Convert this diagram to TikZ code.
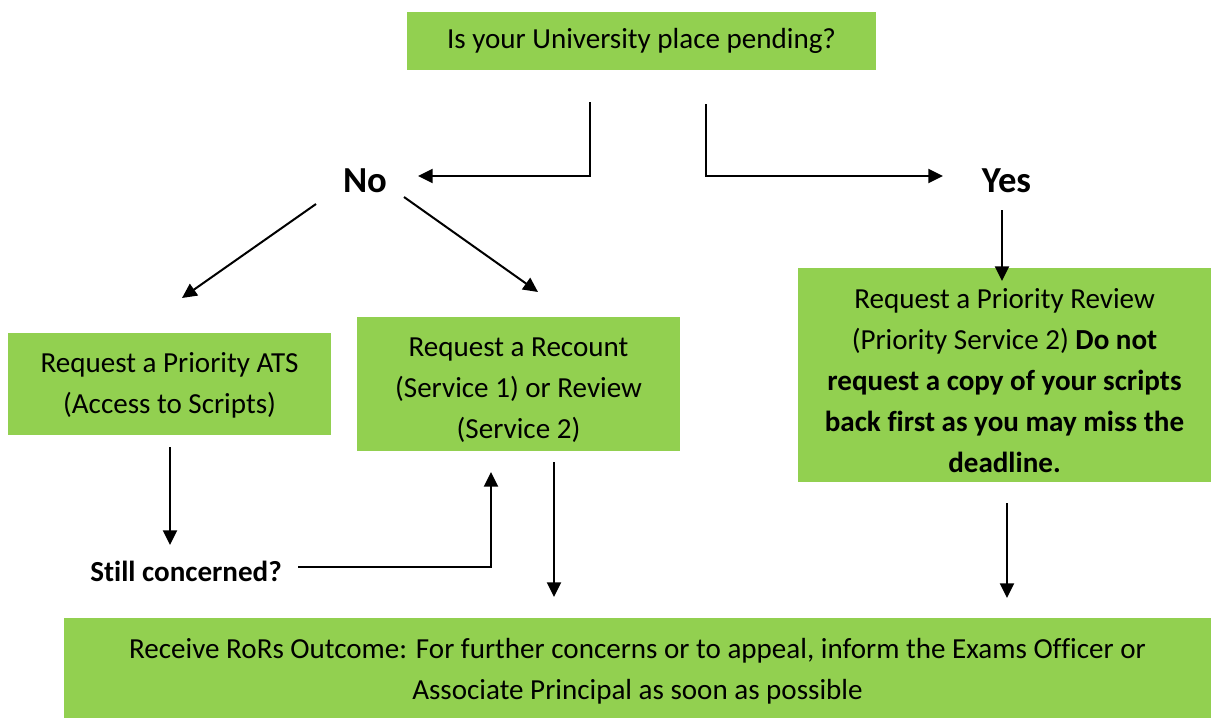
\documentclass[tikz,border=0pt]{standalone}
\usepackage{fontspec}
\setmainfont[Ligatures=NoCommon]{Carlito}
\usetikzlibrary{arrows.meta}
\definecolor{boxgreen}{HTML}{92D050}
\newcommand{\topgap}[1]{\rule{0pt}{#1}}
\tikzset{
  box/.style={fill=boxgreen, draw=none, inner sep=0pt, align=center, text=black,
    font=\fontsize{21.8}{30.75}\selectfont},
  lbl/.style={inner sep=0pt, font=\bfseries\fontsize{27.5}{33}\selectfont},
  sublbl/.style={inner sep=0pt, font=\bfseries\fontsize{21.8}{30.75}\selectfont},
  arr/.style={line width=1.5pt, -{Triangle[length=11pt,width=10.5pt]}},
  ln/.style={line width=1.5pt}
}
\begin{document}
\begin{tikzpicture}[x=0.75pt,y=-0.75pt]
\useasboundingbox (0,0) rectangle (1211,718);
% boxes
\node[box, minimum width=469*0.75pt, minimum height=58*0.75pt] (top) at (641.5,41) {Is your University place pending?};
\node[box, minimum width=323*0.75pt, minimum height=102*0.75pt] (ats) at (169.5,384) {\topgap{17.5pt}Request a Priority ATS\\(Access to Scripts)};
\node[box, minimum width=323*0.75pt, minimum height=134*0.75pt] (rec) at (518.5,384) {\topgap{23.5pt}Request a Recount\\(Service 1) or Review\\(Service 2)};
\node[box, minimum width=413*0.75pt, minimum height=214*0.75pt] (pri) at (1004.5,375) {\topgap{23.5pt}Request a Priority Review\\(Priority Service 2) \textbf{Do not}\\\textbf{request a copy of your scripts}\\\textbf{back first as you may miss the}\\\textbf{deadline.}};
\node[box, minimum width=1147*0.75pt, minimum height=100*0.75pt] (out) at (637.5,668) {\topgap{20.5pt}Receive RoRs Outcome: For further concerns or to appeal, inform the Exams Officer or\\Associate Principal as soon as possible};
% labels
\node[lbl] (no) at (365,181) {No};
\node[lbl] (yes) at (1006.5,181) {Yes};
\node[sublbl, anchor=west] (still) at (90,571) {Still concerned?};
% coordinates
\coordinate (a1) at (590,102);
\coordinate (a2) at (418,176);
\coordinate (b1) at (706,104);
\coordinate (b2) at (943,176);
\coordinate (c1) at (316,204);
\coordinate (c2) at (182,298);
\coordinate (d1) at (404,197);
\coordinate (d2) at (538,292);
\coordinate (e1) at (1002,210);
\coordinate (e2) at (1002,281);
\coordinate (f1) at (170,447);
\coordinate (f2) at (170,545);
\coordinate (g1) at (298,567);
\coordinate (g2) at (491,472);
\coordinate (h1) at (554,462);
\coordinate (h2) at (554,597);
\coordinate (i1) at (1007,503);
\coordinate (i2) at (1007,598);
% connectors
\draw[arr] (a1) |- (a2);
\draw[arr] (b1) |- (b2);
\draw[arr] (c1) -- (c2);
\draw[arr] (d1) -- (d2);
\draw[arr] (e1) -- (e2);
\draw[arr] (f1) -- (f2);
\draw[arr] (g1) -| (g2);
\draw[arr] (h1) -- (h2);
\draw[arr] (i1) -- (i2);
\end{tikzpicture}
\end{document}
